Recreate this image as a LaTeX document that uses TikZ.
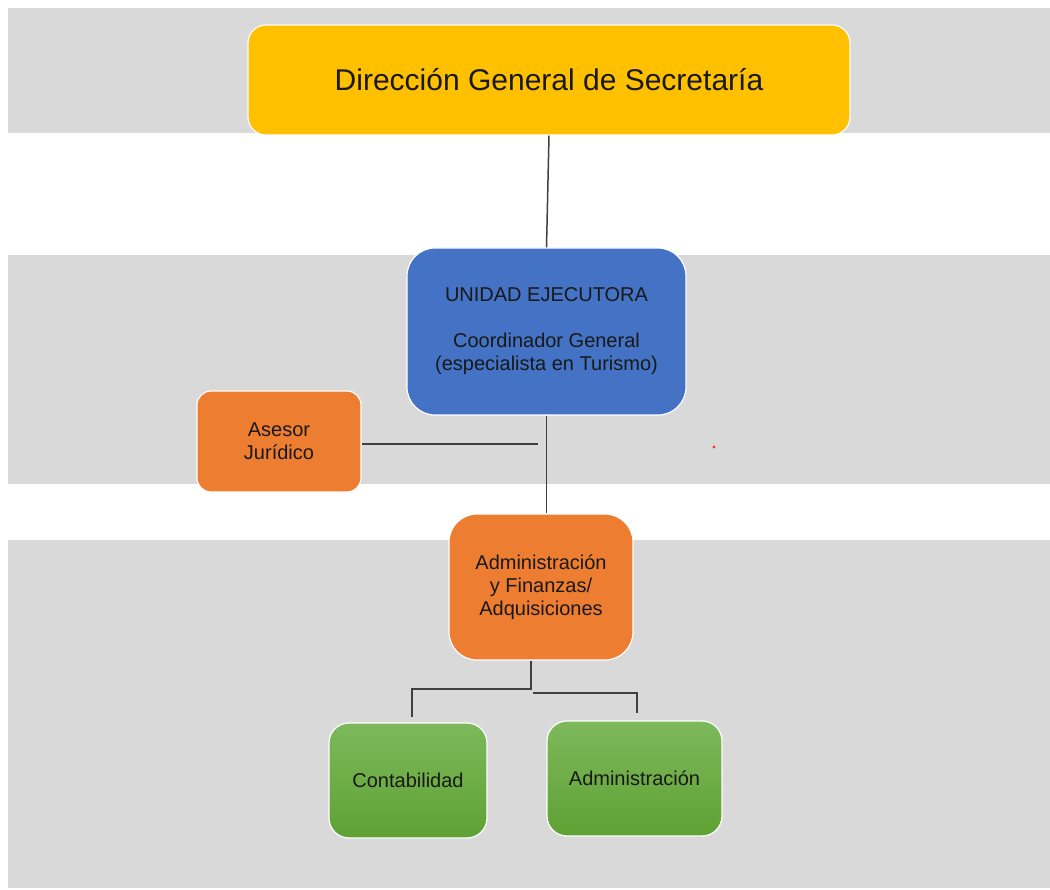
\documentclass[tikz,border=0pt]{standalone}
\usepackage{fontspec}
\setmainfont{Liberation Sans}
\definecolor{banda}{HTML}{D9D9D9}
\definecolor{amarillo}{HTML}{FFC000}
\definecolor{azul}{HTML}{4472C4}
\definecolor{naranja}{HTML}{ED7D31}
\definecolor{verdeA}{HTML}{7DB95B}
\definecolor{verdeB}{HTML}{5FA134}
\definecolor{gris}{HTML}{404040}
\begin{document}
\begin{tikzpicture}[x=1pt,y=-1pt,
 caja/.style={draw=white,line width=1.2pt,text=black!90,align=center,inner sep=0pt,font=\fontsize{20}{23}\selectfont},
 verde/.style={caja,top color=verdeA,bottom color=verdeB,rounded corners=20pt},
 enlace/.style={draw=gris,line width=1.5pt},
 rama/.style={draw=gris,line width=2.4pt}]
 \useasboundingbox (0,0) rectangle (1050,890);
 \fill[banda](8,8) rectangle (1050,133);
 \fill[banda](8,255) rectangle (1050,484);
 \fill[banda](8,540) rectangle (1050,888);
 \node[caja,fill=amarillo,rounded corners=18pt,minimum width=602pt,minimum height=110pt,font=\fontsize{30}{36}\selectfont] (dgs) at (549,80) {Dirección General de Secretaría};
 \node[caja,fill=azul,rounded corners=28pt,minimum width=279pt,minimum height=167pt] (ue) at (546.5,331.5) {UNIDAD EJECUTORA\\[23pt]Coordinador General\\(especialista en Turismo)};
 \node[caja,fill=naranja,rounded corners=14pt,minimum width=164pt,minimum height=101pt] (aj) at (279,441.5) {Asesor\\Jurídico};
 \node[caja,fill=naranja,rounded corners=28pt,minimum width=184pt,minimum height=146pt] (adm) at (541,587) {Administración\\y Finanzas/\\Adquisiciones};
 \node[verde,minimum width=158pt,minimum height=115pt] (cont) at (408,780.5) {Contabilidad};
 \node[verde,minimum width=175pt,minimum height=115pt] (admi) at (634.5,778.5) {Administración};
 \coordinate (aje) at (538,444);
 \coordinate (fork) at (531,689);
 \coordinate (cl) at (412,717);
 \coordinate (fr) at (533,693);
 \coordinate (cr) at (637,713);
 \draw[enlace] (dgs.south) -- (ue.north);
 \draw[enlace] (ue.south) -- (ue.south |- adm.north);
 \draw[enlace] (aj.east |- aje) -- (aje);
 \draw[rama] (adm.south -| fork) -- (fork) -| (cl);
 \draw[rama] (fr) -| (cr);
 \fill[red!80] (714,447) circle (1.6);
\end{tikzpicture}
\end{document}
